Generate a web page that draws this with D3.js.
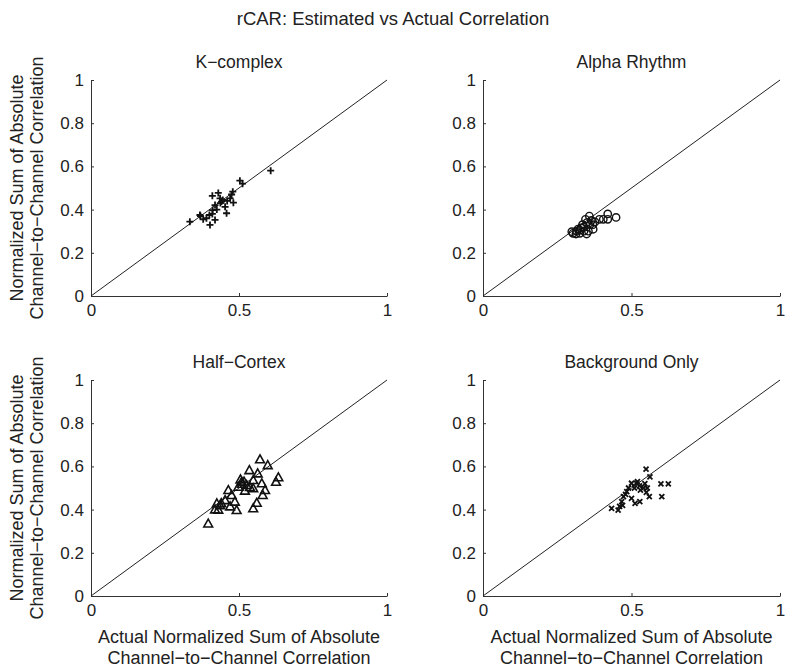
<!DOCTYPE html>
<html><head><meta charset="utf-8">
<script src="https://cdn.jsdelivr.net/npm/d3@7"></script>
<style>body{margin:0;background:#fff}text{font-family:"Liberation Sans",Arial,sans-serif;fill:#222}</style>
</head><body><svg id="c" width="786" height="669"></svg>
<script>
const title = "rCAR: Estimated vs Actual Correlation";
const panelTitles = ["K\u2212complex","Alpha Rhythm","Half\u2212Cortex","Background Only"];
const markerTypes = ["plus","circle","triangle","cross"];
const xTicks = [0,0.5,1];
const yTicks = [0,0.2,0.4,0.6,0.8,1];
const yLabel = ["Normalized Sum of Absolute","Channel\u2212to\u2212Channel Correlation"];
const xLabel = ["Actual Normalized Sum of Absolute","Channel\u2212to\u2212Channel Correlation"];

const kcomplexX = [0.607,0.503,0.512,0.479,0.41,0.436,0.441,0.47,0.481,0.419,0.453,0.411,0.458,0.368,0.40,0.419,0.379,0.334,0.402,0.43,0.445,0.41,0.37,0.475,0.437,0.46,0.39,0.425];
const kcomplexY = [0.58,0.534,0.52,0.483,0.464,0.452,0.437,0.452,0.432,0.421,0.413,0.398,0.383,0.375,0.375,0.352,0.355,0.344,0.329,0.477,0.445,0.38,0.37,0.47,0.43,0.44,0.36,0.40];
const alphaX = [0.448,0.42,0.42,0.405,0.392,0.358,0.303,0.326,0.36,0.377,0.313,0.326,0.349,0.371,0.299,0.34,0.35,0.335,0.345,0.365,0.33,0.32,0.355,0.37,0.34,0.315];
const alphaY = [0.364,0.38,0.355,0.355,0.355,0.37,0.29,0.305,0.33,0.343,0.287,0.29,0.287,0.309,0.298,0.32,0.34,0.33,0.355,0.35,0.315,0.31,0.30,0.33,0.30,0.30];
const halfX = [0.571,0.597,0.535,0.563,0.633,0.625,0.548,0.509,0.577,0.526,0.498,0.588,0.52,0.548,0.464,0.58,0.475,0.56,0.453,0.548,0.486,0.492,0.425,0.436,0.419,0.43,0.47,0.396,0.505,0.517,0.537,0.44,0.51];
const halfY = [0.633,0.606,0.583,0.568,0.55,0.529,0.537,0.529,0.522,0.514,0.506,0.491,0.488,0.499,0.491,0.468,0.468,0.432,0.444,0.406,0.437,0.398,0.429,0.42,0.401,0.40,0.415,0.336,0.54,0.53,0.505,0.43,0.52];
const bgX = [0.549,0.562,0.599,0.624,0.602,0.56,0.5,0.517,0.527,0.54,0.55,0.484,0.473,0.467,0.5,0.528,0.512,0.433,0.455,0.47,0.46,0.53,0.553,0.49,0.51,0.48,0.52,0.545];
const bgY = [0.587,0.552,0.519,0.519,0.46,0.46,0.522,0.522,0.51,0.50,0.48,0.483,0.46,0.437,0.452,0.437,0.429,0.406,0.398,0.42,0.415,0.49,0.50,0.50,0.50,0.47,0.53,0.52];
const dataX = [kcomplexX, alphaX, halfX, bgX];
const dataY = [kcomplexY, alphaY, halfY, bgY];

const svg = d3.select("#c");
svg.append("text").attr("x",393).attr("y",25).attr("text-anchor","middle").style("font-size","18.5px").text(title);

const panels = [
  {x0:91,x1:387,y0:296,y1:80},
  {x0:483,x1:780,y0:296,y1:80},
  {x0:91,x1:387,y0:596,y1:380},
  {x0:483,x1:780,y0:596,y1:380}
];
const ax = "#333";
panels.forEach((p,i)=>{
  const xs = d3.scaleLinear().domain([0,1]).range([p.x0,p.x1]);
  const ys = d3.scaleLinear().domain([0,1]).range([p.y0,p.y1]);
  const g = svg.append("g");
  const xa = g.append("g").attr("transform",`translate(0,${p.y0})`)
    .call(d3.axisBottom(xs).tickValues(xTicks).tickFormat(d3.format("")).tickSizeInner(-3).tickSizeOuter(0).tickPadding(8));
  const ya = g.append("g").attr("transform",`translate(${p.x0},0)`)
    .call(d3.axisLeft(ys).tickValues(yTicks).tickFormat(d3.format("")).tickSizeInner(-3).tickSizeOuter(0).tickPadding(7));
  [xa,ya].forEach(a=>{
    a.selectAll("path,line").attr("stroke",ax).attr("stroke-width",1);
    a.selectAll("text").style("font-size","17px").attr("fill","#222").style("font-family",'"Liberation Sans",Arial,sans-serif');
  });
  g.append("line").attr("x1",xs(0)).attr("y1",ys(0)).attr("x2",xs(1)).attr("y2",ys(1)).attr("stroke","#222").attr("stroke-width",1);
  g.append("text").attr("x",(p.x0+p.x1)/2).attr("y",p.y1-12).attr("text-anchor","middle").style("font-size","17.5px").text(panelTitles[i]);
  const mk = markerTypes[i];
  const pts = dataX[i].map((v,k)=>[xs(v),ys(dataY[i][k])]);
  const mg = g.append("g");
  pts.forEach(([cx,cy])=>{
    if(mk==="plus"){
      mg.append("path").attr("d",`M${cx-3.5},${cy}H${cx+3.5}M${cx},${cy-3.5}V${cy+3.5}`).attr("stroke","#111").attr("stroke-width",1.8);
    } else if(mk==="circle"){
      mg.append("circle").attr("cx",cx).attr("cy",cy).attr("r",3.7).attr("fill","none").attr("stroke","#111").attr("stroke-width",1.4);
    } else if(mk==="triangle"){
      const r=4.4;
      mg.append("path").attr("d",`M${cx},${cy-r}L${cx+r},${cy+r*0.8}L${cx-r},${cy+r*0.8}Z`).attr("fill","none").attr("stroke","#111").attr("stroke-width",1.6);
    } else {
      const r=2.5;
      mg.append("path").attr("d",`M${cx-r},${cy-r}L${cx+r},${cy+r}M${cx-r},${cy+r}L${cx+r},${cy-r}`).attr("stroke","#111").attr("stroke-width",1.8);
    }
  });
  if(i%2===0){
    const cy=(p.y0+p.y1)/2;
    yLabel.forEach((t,k)=>{
      svg.append("text").attr("transform",`translate(${23+k*20},${cy}) rotate(-90)`).attr("text-anchor","middle").style("font-size","18px").text(t);
    });
  }
  if(i>=2){
    xLabel.forEach((t,k)=>{
      svg.append("text").attr("x",(p.x0+p.x1)/2).attr("y",643+k*21).attr("text-anchor","middle").style("font-size","18px").text(t);
    });
  }
});
</script></body></html>
